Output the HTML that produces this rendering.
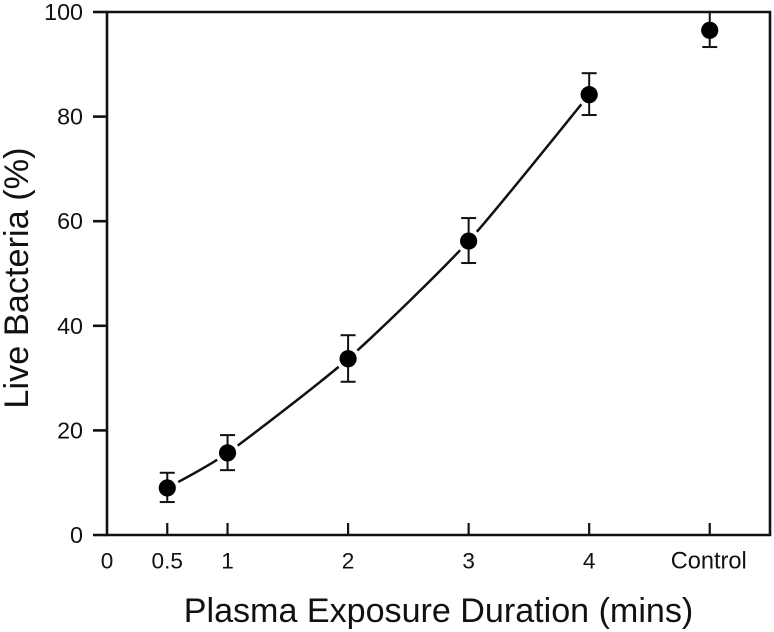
<!DOCTYPE html>
<html><head><meta charset="utf-8"><title>Live Bacteria vs Plasma Exposure</title>
<style>html,body{margin:0;padding:0;background:#fff}svg{display:block}text{font-family:"Liberation Sans",Arial,sans-serif;fill:#111}</style>
</head><body>
<svg id="chart" width="774" height="632" viewBox="0 0 774 632" xmlns="http://www.w3.org/2000/svg"></svg>
<script>
const xTickValues = [0.5, 1, 2, 3, 4, 5];
const xTickLabels = ["0.5", "1", "2", "3", "4", "Control"];
const yTickValues = [0, 20, 40, 60, 80, 100];
const pointX = [0.5, 1, 2, 3, 4, 5];
const liveValues = [9, 15.7, 33.7, 56.2, 84.2, 96.5];
const errorHigh = [11.9, 19.1, 38.2, 60.6, 88.3, 100];
const errorLow = [6.3, 12.4, 29.3, 52, 80.3, 93.3];
const linkedCount = 5;

const NS = 'http://www.w3.org/2000/svg';
const svg = document.getElementById('chart');
const xMin = 0, xMax = 5.5, yMin = 0, yMax = 100;
const left = 107, right = 770, top_ = 12, bottom = 535;
const sx = v => left + (v - xMin) / (xMax - xMin) * (right - left);
const sy = v => bottom - (v - yMin) / (yMax - yMin) * (bottom - top_);
function make(tag, attrs, parent) {
  const el = document.createElementNS(NS, tag);
  for (const k in attrs) el.setAttribute(k, attrs[k]);
  (parent || svg).appendChild(el);
  return el;
}
function seg(x1, y1, x2, y2, w) {
  return make('line', {x1, y1, x2, y2, stroke: '#111', 'stroke-width': w});
}
// curve
const cx = pointX.slice(0, linkedCount).map(sx);
const cy = liveValues.slice(0, linkedCount).map(sy);
let d = 'M' + cx[0] + ' ' + cy[0];
for (let i = 0; i < linkedCount - 1; i++) {
  const p0x = cx[Math.max(i - 1, 0)], p0y = cy[Math.max(i - 1, 0)];
  const p3x = cx[Math.min(i + 2, linkedCount - 1)], p3y = cy[Math.min(i + 2, linkedCount - 1)];
  const c1x = cx[i] + (cx[i + 1] - p0x) / 9, c1y = cy[i] + (cy[i + 1] - p0y) / 9;
  const c2x = cx[i + 1] - (p3x - cx[i]) / 9, c2y = cy[i + 1] - (p3y - cy[i]) / 9;
  d += ' C' + c1x + ' ' + c1y + ' ' + c2x + ' ' + c2y + ' ' + cx[i + 1] + ' ' + cy[i + 1];
}
const curve = make('path', {d, fill: 'none', stroke: '#111', 'stroke-width': 2.5});


// white halos break the line around each marker
pointX.forEach((v, i) => {
  const halo = make('circle', {cx: sx(v), cy: sy(liveValues[i]), r: 12.5, fill: '#fff'});
  
  
});
// frame
const frame = make('path', {d: `M${left} ${top_}H${right}V${bottom}H${left}Z`, fill: 'none', stroke: '#111', 'stroke-width': 2.6});


// y ticks
yTickValues.forEach(v => {
  const t = seg(left - 14, sy(v), left, sy(v), 2.6);
  
  
  const l = make('text', {x: 83, y: sy(v) + 8, 'text-anchor': 'end', 'font-size': 23.3});
  l.textContent = v;
  
  
});
// x ticks
xTickValues.forEach((v, i) => {
  const t = seg(sx(v), bottom - 12, sx(v), bottom, 2.2);
  
  
  const l = make('text', {x: sx(v) + (i === 5 ? -1 : 0), y: 568.5, 'text-anchor': 'middle', 'font-size': 22.6});
  if (i === 5) l.setAttribute('font-size', 23.6);
  l.textContent = xTickLabels[i];
  
  
});
const zero = make('text', {x: sx(0), y: 568.5, 'text-anchor': 'middle', 'font-size': 22.6});
zero.textContent = '0';


// error bars + markers
pointX.forEach((v, i) => {
  const x = sx(v), hi = sy(errorHigh[i]), lo = sy(errorLow[i]);
  const stem = seg(x, hi, x, lo, 2);
  
  
  if (errorHigh[i] < yMax) {
    const capHi = seg(x - 7.5, hi, x + 7.5, hi, 2);
    
    
  }
  const capLo = seg(x - 7.5, lo, x + 7.5, lo, 2);
  
  
  const m = make('circle', {cx: x, cy: sy(liveValues[i]), r: 8.6, fill: '#000'});
  
  
});
// titles
const xTitle = make('text', {x: 438.5, y: 622, 'text-anchor': 'middle', 'font-size': 34.1});
xTitle.textContent = 'Plasma Exposure Duration (mins)';


const yTitle = make('text', {x: 0, y: 0, 'text-anchor': 'middle', 'font-size': 34.3, transform: 'translate(28 278) rotate(-90)'});
yTitle.textContent = 'Live Bacteria (%)';


</script>
</body></html>
